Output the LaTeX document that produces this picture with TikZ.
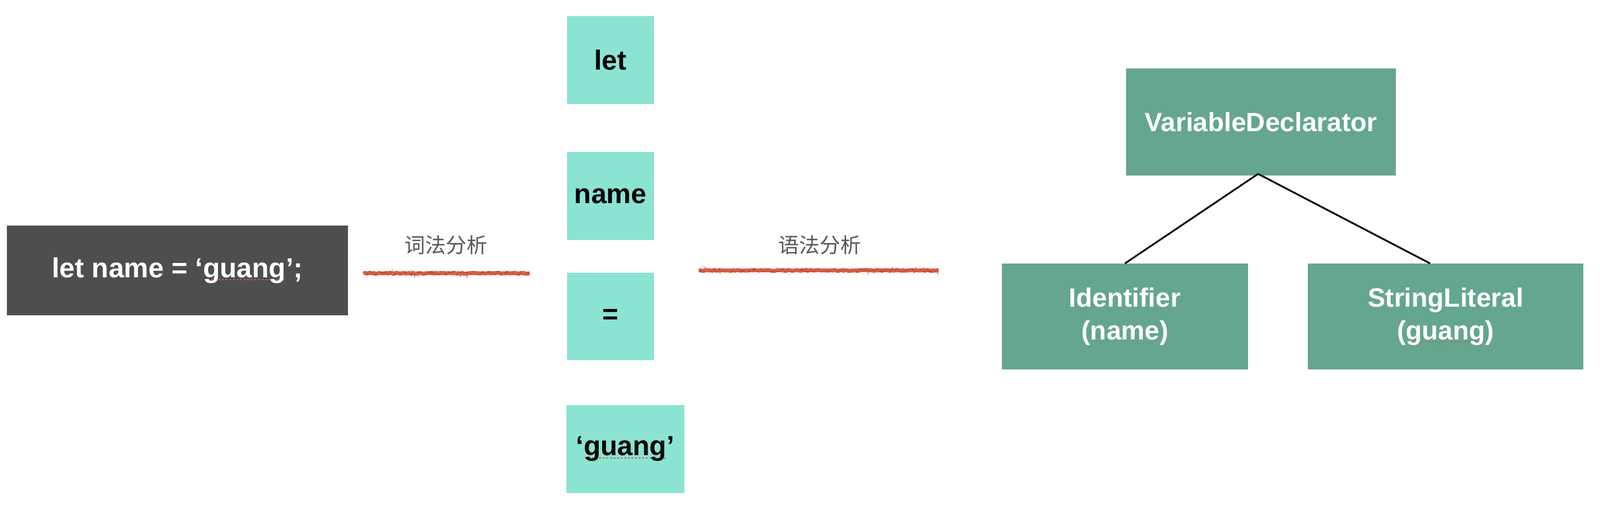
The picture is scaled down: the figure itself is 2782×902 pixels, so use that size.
\documentclass[tikz,border=0pt]{standalone}
\usepackage{fontspec}
\setmainfont{Liberation Sans}
\newfontfamily\cjk{Noto Sans CJK SC}
\usetikzlibrary{decorations.pathmorphing}
\definecolor{darkbox}{RGB}{77,78,80}
\definecolor{tokfill}{RGB}{139,227,209}
\definecolor{treefill}{RGB}{100,166,142}
\definecolor{crayon}{RGB}{206,74,44}
\definecolor{labelgray}{RGB}{88,88,88}
\definecolor{spellred}{RGB}{205,95,85}
\newcommand\spellmark[1]{\leavevmode\setbox0\hbox{#1}\rlap{\textcolor{spellred}{\raisebox{-5pt}{\xleaders\hbox to 6pt{\hss\rule{3pt}{2pt}\hss}\hskip\wd0}}}\box0}
\begin{document}
\begin{tikzpicture}[x=1pt,y=-1pt,
  srcbox/.style={fill=darkbox,text=white,inner sep=0pt,font=\bfseries\fontsize{48}{56}\selectfont},
  tokbox/.style={fill=tokfill,text=black,inner sep=0pt,font=\bfseries\fontsize{48}{56}\selectfont},
  treebox/.style={fill=treefill,text=white,inner sep=0pt,align=center,font=\bfseries\fontsize{46}{57}\selectfont},
  crayonline/.style={draw=crayon,line width=6.5pt,decorate,decoration={random steps,segment length=3pt,amplitude=0.8pt}},
  crayonfuzz/.style={draw=crayon!85!white,line width=2pt,decorate,decoration={random steps,segment length=2pt,amplitude=2.8pt}},
  steplabel/.style={text=labelgray,inner sep=0pt,font=\cjk\fontsize{36}{40}\selectfont},
  treeline/.style={draw=black,line width=3pt}]
\fill[white] (0,0) rectangle (2782,902);
\useasboundingbox (0,0) rectangle (2782,902);

% source
\node[srcbox,minimum width=593pt,minimum height=156pt] (src) at (308.5,470) {let name = ‘\spellmark{guang}’;};

% tokens
\node[tokbox,minimum width=151pt,minimum height=153pt] (tlet) at (1061.5,104.5) {let};
\node[tokbox,minimum width=151pt,minimum height=153pt] (tname) at (1061.5,340.5) {name};
\node[tokbox,minimum width=151pt,minimum height=152pt] (teq) at (1061.5,550) {=};
\node[tokbox,minimum width=205pt,minimum height=153pt] (tguang) at (1087,780.5) {‘\spellmark{guang}’};

% tree
\node[treebox,minimum width=469pt,minimum height=186pt] (vd) at (2192.5,212) {VariableDeclarator};
\node[treebox,minimum width=428pt,minimum height=184pt] (id) at (1956,550) {Identifier\\(name)};
\node[treebox,minimum width=479pt,minimum height=184pt] (sl) at (2513.5,550) {StringLiteral\\(\spellmark{guang})};

\coordinate (apex) at ([xshift=-5pt,yshift=3pt]vd.south);
\draw[treeline] (apex) -- (id.north);
\draw[treeline] (apex) -- ([xshift=-27pt]sl.north);

% phase labels and crayon strokes
\node[steplabel] (lex) at (775,426) {词法分析};
\node[steplabel] (syn) at (1425,426) {语法分析};
\coordinate (l1a) at (632,475);
\coordinate (l1b) at (921,475);
\coordinate (l2a) at (1215,470);
\coordinate (l2b) at (1632,470);
\draw[crayonline] (l1a) -- (l1b);
\draw[crayonfuzz] (l1a) -- (l1b);
\draw[crayonline] (l2a) -- (l2b);
\draw[crayonfuzz] (l2a) -- (l2b);
\end{tikzpicture}
\end{document}
